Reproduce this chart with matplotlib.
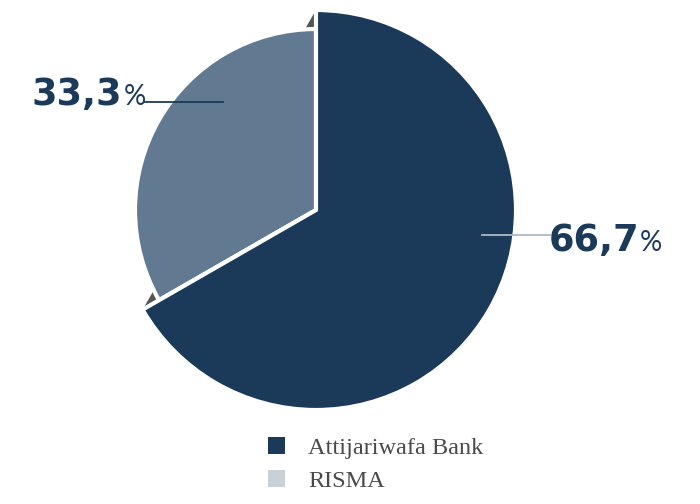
import matplotlib.pyplot as plt
from matplotlib.patches import Polygon, Patch
import numpy as np

labels = ["Attijariwafa Bank", "RISMA"]
values = [66.7, 33.3]
value_text = ["66,7", "33,3"]
slice_colors = ["#1b3a5a", "#627a91"]
legend_colors = ["#1b3a5a", "#c9d1d6"]

navy = "#1b3a5a"

fig = plt.figure(figsize=(7, 5.04), dpi=100)
ax = fig.add_axes([0, 0, 1, 1])

cx, cy, R = 316, 294, 200
wedges, _ = ax.pie(values, colors=slice_colors, startangle=90, counterclock=False,
                   radius=R, center=(cx, cy), frame=True,
                   wedgeprops=dict(edgecolor="white", linewidth=3))
ax.set_xlim(0, 700)
ax.set_ylim(0, 504)
ax.set_aspect("equal")
ax.axis("off")

# smaller RISMA slice sitting on a dark triangular "shadow"
small = wedges[1]
small.set_radius(R * 0.905)
t1, t2 = np.radians(small.theta1), np.radians(small.theta2)
tri = Polygon([(cx, cy), (cx + R * np.cos(t1), cy + R * np.sin(t1)),
               (cx + R * np.cos(t2), cy + R * np.sin(t2))],
              closed=True, facecolor="#555555", edgecolor="none", zorder=0)
ax.add_patch(tri)
wedges[1].set_zorder(1)
wedges[0].set_zorder(2)

# labels with leader lines
ax.plot([482, 550], [504 - 235, 504 - 235], color="#aebac5", lw=1.3, zorder=3)
ax.text(549, 504 - 251, value_text[0], fontsize=26.5, fontweight="heavy", color=navy,
        ha="left", va="baseline", family="DejaVu Sans")
ax.text(640, 504 - 251, "%", fontsize=20, fontweight="normal", color=navy,
        ha="left", va="baseline", family=["Lato", "DejaVu Sans"])

ax.plot([145, 223], [504 - 101.5, 504 - 101.5], color=navy, lw=1.3, zorder=3)
ax.text(31, 504 - 105, value_text[1], fontsize=26.5, fontweight="heavy", color=navy,
        ha="left", va="baseline", family="DejaVu Sans")
ax.text(124, 504 - 105, "%", fontsize=20, fontweight="normal", color=navy,
        ha="left", va="baseline", family=["Lato", "DejaVu Sans"])

handles = [Patch(facecolor=c, edgecolor="none") for c in legend_colors]
leg = fig.legend(handles, labels, loc="upper left", bbox_to_anchor=(258 / 700, 1 - 427 / 504),
                 frameon=False, handlelength=0.72, handleheight=0.72,
                 handletextpad=0.95, labelspacing=0.45, borderaxespad=0,
                 prop=dict(family="Liberation Serif", size=17.5))
for t in leg.get_texts():
    t.set_color("#4a4a4a")

fig.savefig("out.png", dpi=100)
